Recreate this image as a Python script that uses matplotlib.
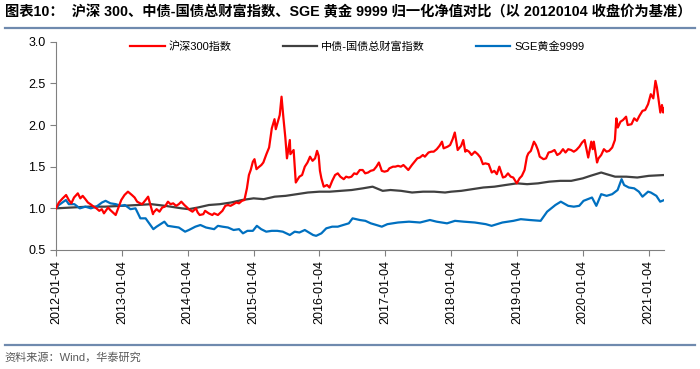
import pandas as pd
import matplotlib
matplotlib.use("Agg")
import matplotlib.pyplot as plt
import matplotlib.dates as mdates

plt.rcParams['font.family'] = ['Liberation Sans', 'Noto Sans CJK SC', 'DejaVu Sans']

# 沪深300 normalised (roughly twice a month)
hs300_dates = [
    "2012-01-04", "2012-01-20", "2012-02-10", "2012-02-29", "2012-03-15", "2012-03-29",
    "2012-04-13", "2012-05-04", "2012-05-18", "2012-05-31", "2012-06-15", "2012-06-29",
    "2012-07-13", "2012-07-31", "2012-08-15", "2012-08-31", "2012-09-14", "2012-09-26",
    "2012-10-19", "2012-10-31", "2012-11-15", "2012-11-30", "2012-12-14", "2012-12-31",
    "2013-01-18", "2013-02-06", "2013-02-28", "2013-03-15", "2013-03-29", "2013-04-15",
    "2013-04-26", "2013-05-15", "2013-05-29", "2013-06-25", "2013-06-28", "2013-07-15",
    "2013-07-31", "2013-08-15", "2013-08-30", "2013-09-16", "2013-09-30", "2013-10-15",
    "2013-10-31", "2013-11-15", "2013-11-29", "2013-12-16", "2013-12-31", "2014-01-15",
    "2014-01-30", "2014-02-18", "2014-02-28", "2014-03-11", "2014-03-31", "2014-04-10",
    "2014-04-30", "2014-05-20", "2014-05-30", "2014-06-20", "2014-06-30", "2014-07-15",
    "2014-07-31", "2014-08-15", "2014-08-29", "2014-09-15", "2014-09-30", "2014-10-15",
    "2014-10-31", "2014-11-14", "2014-11-28", "2014-12-09", "2014-12-19", "2014-12-31",
    "2015-01-09", "2015-01-20", "2015-01-30", "2015-02-16", "2015-02-27", "2015-03-16",
    "2015-03-31", "2015-04-15", "2015-04-30", "2015-05-07", "2015-05-20", "2015-05-29",
    "2015-06-08", "2015-06-19", "2015-06-29", "2015-07-08", "2015-07-24", "2015-07-27",
    "2015-08-14", "2015-08-26", "2015-09-15", "2015-09-30", "2015-10-15", "2015-10-30",
    "2015-11-13", "2015-11-27", "2015-12-11", "2015-12-22", "2015-12-31", "2016-01-07",
    "2016-01-15", "2016-01-28", "2016-02-15", "2016-02-29", "2016-03-15", "2016-03-31",
    "2016-04-15", "2016-04-29", "2016-05-18", "2016-05-31", "2016-06-15", "2016-06-30",
    "2016-07-15", "2016-07-29", "2016-08-15", "2016-08-31", "2016-09-14", "2016-09-30",
    "2016-10-14", "2016-10-31", "2016-11-15", "2016-11-29", "2016-12-15", "2016-12-30",
    "2017-01-16", "2017-01-26", "2017-02-15", "2017-02-28", "2017-03-15", "2017-03-31",
    "2017-04-14", "2017-04-28", "2017-05-11", "2017-05-31", "2017-06-15", "2017-06-30",
    "2017-07-14", "2017-07-31", "2017-08-11", "2017-08-31", "2017-09-15", "2017-09-29",
    "2017-10-16", "2017-10-31", "2017-11-14", "2017-11-23", "2017-12-15", "2017-12-29",
    "2018-01-12", "2018-01-24", "2018-02-09", "2018-02-28", "2018-03-12", "2018-03-23",
    "2018-03-30", "2018-04-13", "2018-04-27", "2018-05-15", "2018-05-31", "2018-06-15",
    "2018-06-29", "2018-07-12", "2018-07-31", "2018-08-17", "2018-08-31", "2018-09-14",
    "2018-09-28", "2018-10-18", "2018-10-31", "2018-11-15", "2018-11-30", "2018-12-14",
    "2018-12-28", "2019-01-03", "2019-01-18", "2019-01-31", "2019-02-15", "2019-02-28",
    "2019-03-08", "2019-03-22", "2019-04-08", "2019-04-19", "2019-04-30", "2019-05-10",
    "2019-05-31", "2019-06-14", "2019-06-28", "2019-07-15", "2019-07-31", "2019-08-15",
    "2019-08-30", "2019-09-16", "2019-09-30", "2019-10-15", "2019-10-31", "2019-11-15",
    "2019-11-29", "2019-12-16", "2019-12-31", "2020-01-14", "2020-02-03", "2020-02-20",
    "2020-02-28", "2020-03-05", "2020-03-23", "2020-03-31", "2020-04-15", "2020-04-30",
    "2020-05-15", "2020-05-29", "2020-06-15", "2020-06-30", "2020-07-08", "2020-07-16",
    "2020-07-31", "2020-08-14", "2020-08-31", "2020-09-09", "2020-09-30", "2020-10-15",
    "2020-10-30", "2020-11-13", "2020-11-30", "2020-12-15", "2020-12-31", "2021-01-15",
    "2021-01-29", "2021-02-10", "2021-02-18", "2021-02-26", "2021-03-09", "2021-03-18",
    "2021-03-25", "2021-03-31",
]
hs300_vals = [
    1.00, 1.07, 1.12, 1.16, 1.10, 1.06, 1.13, 1.18, 1.12, 1.15, 1.11, 1.07,
    1.05, 1.02, 1.00, 0.97, 0.99, 0.94, 1.01, 0.98, 0.95, 0.92, 1.00, 1.10,
    1.16, 1.20, 1.16, 1.13, 1.08, 1.06, 1.05, 1.10, 1.14, 0.93, 0.95, 0.99,
    0.96, 1.01, 1.02, 1.08, 1.05, 1.06, 1.03, 1.05, 1.08, 1.04, 1.01, 0.98,
    0.96, 1.00, 0.95, 0.92, 0.93, 0.97, 0.94, 0.92, 0.94, 0.92, 0.94, 0.97,
    1.03, 1.04, 1.03, 1.05, 1.07, 1.06, 1.09, 1.10, 1.24, 1.40, 1.46, 1.56,
    1.59, 1.47, 1.49, 1.52, 1.55, 1.65, 1.73, 1.96, 2.07, 1.95, 2.05, 2.12,
    2.34, 2.07, 1.85, 1.60, 1.82, 1.65, 1.70, 1.31, 1.38, 1.40, 1.50, 1.55,
    1.62, 1.57, 1.60, 1.69, 1.63, 1.45, 1.36, 1.26, 1.28, 1.25, 1.33, 1.40,
    1.42, 1.38, 1.35, 1.38, 1.37, 1.38, 1.42, 1.41, 1.46, 1.46, 1.42, 1.43,
    1.45, 1.46, 1.50, 1.55, 1.45, 1.44, 1.45, 1.48, 1.50, 1.50, 1.51, 1.50,
    1.52, 1.49, 1.46, 1.52, 1.56, 1.60, 1.61, 1.64, 1.62, 1.67, 1.68, 1.68,
    1.71, 1.75, 1.80, 1.72, 1.74, 1.76, 1.83, 1.91, 1.70, 1.75, 1.82, 1.68,
    1.70, 1.68, 1.64, 1.68, 1.65, 1.61, 1.53, 1.54, 1.53, 1.43, 1.45, 1.41,
    1.50, 1.37, 1.38, 1.42, 1.38, 1.37, 1.32, 1.30, 1.36, 1.39, 1.46, 1.62,
    1.66, 1.69, 1.80, 1.76, 1.70, 1.62, 1.59, 1.60, 1.67, 1.68, 1.70, 1.64,
    1.66, 1.71, 1.67, 1.71, 1.70, 1.68, 1.70, 1.74, 1.79, 1.82, 1.61, 1.80,
    1.71, 1.80, 1.55, 1.60, 1.64, 1.71, 1.68, 1.69, 1.73, 1.82, 2.08, 1.97,
    2.04, 2.06, 2.10, 2.00, 2.01, 2.08, 2.05, 2.11, 2.17, 2.18, 2.25, 2.37,
    2.32, 2.53, 2.45, 2.32, 2.15, 2.24, 2.15, 2.20,
]

# 中债-国债总财富指数 normalised
bond_dates = [
    "2012-01-04", "2012-04-01", "2012-07-01", "2012-10-01", "2013-01-04", "2013-04-01",
    "2013-06-15", "2013-09-01", "2013-12-01", "2014-01-10", "2014-03-01", "2014-05-01",
    "2014-07-01", "2014-09-01", "2014-11-01", "2015-01-04", "2015-03-01", "2015-05-01",
    "2015-07-01", "2015-09-01", "2015-11-01", "2016-01-04", "2016-03-01", "2016-05-01",
    "2016-07-01", "2016-09-01", "2016-10-25", "2016-12-20", "2017-02-01", "2017-04-01",
    "2017-06-01", "2017-08-01", "2017-10-01", "2017-12-01", "2018-01-04", "2018-03-01",
    "2018-05-01", "2018-07-01", "2018-09-01", "2018-11-01", "2019-01-04", "2019-03-01",
    "2019-05-01", "2019-07-01", "2019-09-01", "2019-11-01", "2020-01-04", "2020-02-15",
    "2020-04-15", "2020-05-15", "2020-07-01", "2020-09-01", "2020-11-01", "2021-01-04",
    "2021-03-31",
]
bond_vals = [
    1.00, 1.01, 1.02, 1.02, 1.03, 1.04, 1.05, 1.03, 1.00, 0.99, 1.01, 1.04,
    1.05, 1.07, 1.10, 1.12, 1.11, 1.14, 1.15, 1.17, 1.19, 1.20, 1.20, 1.21,
    1.22, 1.24, 1.26, 1.21, 1.22, 1.21, 1.19, 1.20, 1.20, 1.19, 1.20, 1.21,
    1.23, 1.25, 1.26, 1.28, 1.30, 1.29, 1.30, 1.32, 1.33, 1.33, 1.36, 1.39,
    1.43, 1.41, 1.38, 1.38, 1.37, 1.39, 1.40,
]

# SGE黄金9999 normalised
gold_dates = [
    "2012-01-04", "2012-01-20", "2012-02-28", "2012-03-15", "2012-04-15", "2012-05-15",
    "2012-06-15", "2012-07-15", "2012-08-15", "2012-09-15", "2012-10-05", "2012-11-01",
    "2012-12-01", "2012-12-28", "2013-01-20", "2013-02-20", "2013-03-20", "2013-04-16",
    "2013-05-15", "2013-06-27", "2013-07-15", "2013-08-27", "2013-09-15", "2013-10-15",
    "2013-11-15", "2013-12-20", "2014-01-10", "2014-02-15", "2014-03-15", "2014-04-15",
    "2014-05-30", "2014-06-20", "2014-07-15", "2014-08-15", "2014-09-15", "2014-10-15",
    "2014-11-06", "2014-12-01", "2014-12-31", "2015-01-22", "2015-02-15", "2015-03-15",
    "2015-04-15", "2015-05-15", "2015-06-15", "2015-07-24", "2015-08-20", "2015-09-15",
    "2015-10-15", "2015-11-30", "2015-12-17", "2016-01-15", "2016-02-11", "2016-03-15",
    "2016-04-15", "2016-05-15", "2016-06-15", "2016-07-06", "2016-08-15", "2016-09-15",
    "2016-10-15", "2016-11-15", "2016-12-15", "2017-01-15", "2017-03-15", "2017-05-15",
    "2017-07-15", "2017-09-08", "2017-10-15", "2017-12-12", "2018-01-25", "2018-03-15",
    "2018-05-15", "2018-07-15", "2018-08-16", "2018-10-15", "2018-12-15", "2019-01-25",
    "2019-03-15", "2019-05-15", "2019-06-20", "2019-08-05", "2019-09-04", "2019-10-15",
    "2019-11-15", "2019-12-15", "2020-01-08", "2020-02-24", "2020-03-19", "2020-04-15",
    "2020-05-15", "2020-06-15", "2020-07-15", "2020-08-06", "2020-08-20", "2020-09-15",
    "2020-10-15", "2020-11-10", "2020-11-30", "2020-12-31", "2021-01-15", "2021-02-15",
    "2021-03-08", "2021-03-31",
]
gold_vals = [
    1.00, 1.04, 1.10, 1.05, 1.05, 1.00, 1.02, 1.00, 1.02, 1.07, 1.09, 1.06,
    1.05, 1.03, 1.04, 0.99, 1.00, 0.88, 0.88, 0.75, 0.78, 0.84, 0.79, 0.78,
    0.77, 0.72, 0.74, 0.78, 0.80, 0.77, 0.75, 0.79, 0.78, 0.77, 0.74, 0.75,
    0.70, 0.73, 0.73, 0.79, 0.75, 0.72, 0.73, 0.73, 0.72, 0.68, 0.72, 0.71,
    0.74, 0.68, 0.67, 0.70, 0.76, 0.78, 0.78, 0.80, 0.82, 0.88, 0.86, 0.85,
    0.82, 0.80, 0.78, 0.81, 0.83, 0.84, 0.83, 0.86, 0.84, 0.82, 0.85, 0.84,
    0.83, 0.81, 0.79, 0.83, 0.85, 0.87, 0.86, 0.85, 0.96, 1.04, 1.08, 1.03,
    1.02, 1.03, 1.09, 1.13, 1.03, 1.17, 1.15, 1.17, 1.22, 1.35, 1.28, 1.25,
    1.24, 1.20, 1.14, 1.20, 1.19, 1.15, 1.08, 1.10,
]

year_ticks = ["%d-01-04" % y for y in range(2012, 2022)]

fig = plt.figure(figsize=(7, 3.69), dpi=100)
ax = fig.add_axes([0.08, 0.3225, 0.869, 0.5645])

ax.plot(pd.to_datetime(hs300_dates), hs300_vals, color='#FF0000', lw=1.6, label='沪深300指数', zorder=3)
ax.plot(pd.to_datetime(bond_dates), bond_vals, color='#404040', lw=1.6, label='中债-国债总财富指数', zorder=2)
ax.plot(pd.to_datetime(gold_dates), gold_vals, color='#0070C0', lw=1.6, label='SGE黄金9999', zorder=2)

ax.set_ylim(0.5, 3.0)
ax.set_yticks([0.5, 1.0, 1.5, 2.0, 2.5, 3.0])
ax.yaxis.set_major_formatter(matplotlib.ticker.FormatStrFormatter('%.1f'))
ax.set_xlim(pd.Timestamp("2012-01-04"), pd.Timestamp("2021-03-31"))
ax.set_xticks(pd.to_datetime(year_ticks))
ax.xaxis.set_major_formatter(mdates.DateFormatter('%Y-%m-%d'))
ax.tick_params(axis='x', rotation=90, labelsize=9, length=4, color='#808080')
ax.tick_params(axis='y', labelsize=9, length=4, color='#808080')

for s in ['top', 'right']:
    ax.spines[s].set_visible(False)
for s in ['left', 'bottom']:
    ax.spines[s].set_color('#808080')

ax.legend(loc='center left', bbox_to_anchor=(0.186, 0.873), bbox_transform=fig.transFigure,
          ncol=3, frameon=False, fontsize=8, handlelength=3.1, columnspacing=4.6,
          handletextpad=0.35, borderpad=0, borderaxespad=0)

# title, source and the two rules
fig.text(0.007, 0.967, '图表10：  沪深 300、中债-国债总财富指数、SGE 黄金 9999 归一化净值对比（以 20120104 收盘价为基准）',
         fontsize=10.3, fontweight='bold', va='center', ha='left')
fig.add_artist(plt.Line2D([0.007, 0.993], [0.924, 0.924], color='#6F8AAE', lw=1.6))
fig.add_artist(plt.Line2D([0.007, 0.993], [0.065, 0.065], color='#6F8AAE', lw=1.6))
fig.text(0.007, 0.032, '资料来源：Wind，华泰研究', fontsize=8, color='#595959', va='center', ha='left')

fig.savefig('out.png', dpi=100)
